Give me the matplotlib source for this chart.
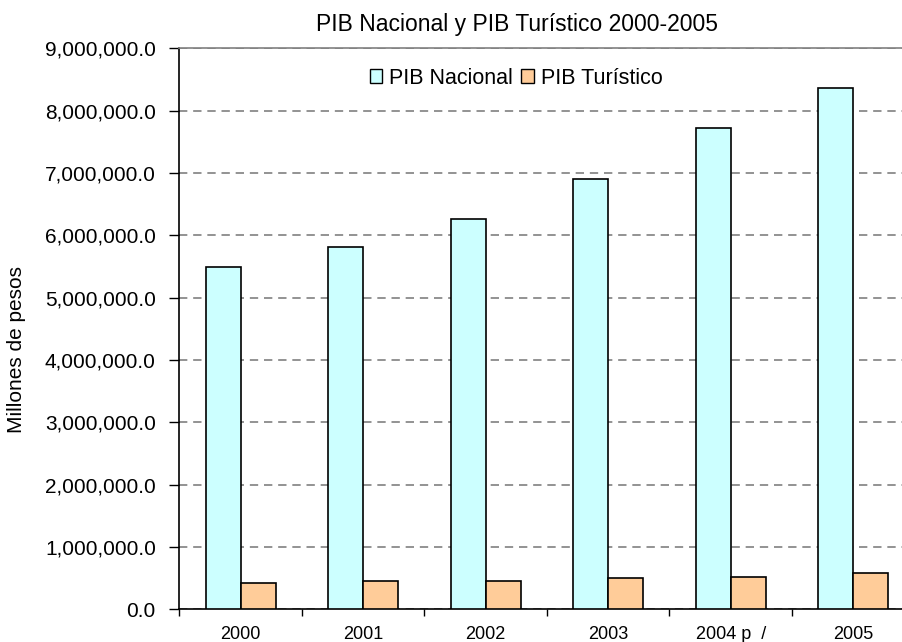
import matplotlib.pyplot as plt
import numpy as np
from matplotlib.patches import Patch
from matplotlib.ticker import FuncFormatter

plt.rcParams['font.family'] = ['Liberation Sans', 'DejaVu Sans']

# data
years = ['2000', '2001', '2002', '2003', '2004 p  /', '2005']
pib_nacional = [5490000, 5810000, 6260000, 6900000, 7720000, 8360000]
pib_turistico = [427000, 450000, 450000, 500000, 520000, 590000]
series_names = ['PIB Nacional', 'PIB Turístico']
series_colors = ['#CCFFFF', '#FFCC99']

fig = plt.figure(figsize=(9.02, 6.42), dpi=100)
# axes run past the right edge, like the original export
ax = fig.add_axes([179.4 / 902, 1 - 609.3 / 642, 735 / 902, 561 / 642])

x = np.arange(len(years))
w = 0.286
ax.bar(x - w / 2, pib_nacional, w, color=series_colors[0], edgecolor='black', linewidth=1.2, zorder=3)
ax.bar(x + w / 2, pib_turistico, w, color=series_colors[1], edgecolor='black', linewidth=1.2, zorder=3)

ax.set_xlim(-0.5, len(years) - 0.5)
ax.set_ylim(0, 9000000)
ax.set_yticks(np.arange(0, 9000001, 1000000))
ax.yaxis.set_major_formatter(FuncFormatter(lambda v, p: f'{v:,.1f}'))
ax.yaxis.grid(True, color='#808080', linestyle=(0, (5, 3.5)), linewidth=1.2, zorder=0)

# tick marks on category borders, labels in the middle
ax.set_xticks(np.arange(-0.5, len(years), 1.0))
ax.set_xticklabels([])
ax.set_xticks(x, minor=True)
ax.set_xticklabels(years, minor=True)
ax.tick_params(axis='x', which='major', length=5, width=1, direction='out')
ax.tick_params(axis='x', which='minor', length=0, pad=12, labelsize=13)
ax.tick_params(axis='y', length=7, width=1, direction='out', pad=10, labelsize=15)

for s in ['left', 'bottom']:
    ax.spines[s].set_linewidth(1.2)
    ax.spines[s].set_color('black')
ax.spines['top'].set_color('#808080')
ax.spines['top'].set_linewidth(1.2)
ax.spines['right'].set_visible(False)

fig.text(17 / 902, 1 - 350 / 642, 'Millones de pesos', rotation=90, fontsize=15,
         ha='center', va='center')
fig.text(517 / 902, 1 - 25 / 642, 'PIB Nacional y PIB Turístico 2000-2005', fontsize=16.5,
         ha='center', va='center')

handles = [Patch(facecolor=c, edgecolor='black', linewidth=1) for c in series_colors]
fig.legend(handles, series_names, loc='center', bbox_to_anchor=(516 / 902, 1 - 78 / 642),
           ncol=2, frameon=False, fontsize=15.5, handlelength=0.6, handleheight=0.6,
           handletextpad=0.3, columnspacing=0.4)

fig.savefig('out.png', dpi=100)
